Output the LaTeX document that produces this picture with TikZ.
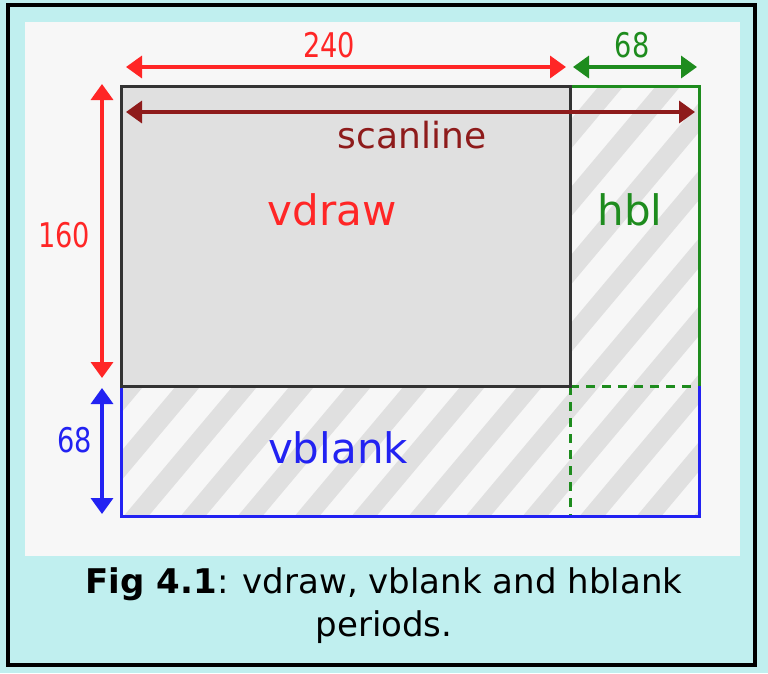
\documentclass[tikz,border=0pt]{standalone}
\usepackage{fontspec}
\setmainfont{DejaVu Sans}
\usetikzlibrary{arrows.meta,positioning}
\definecolor{bgcyan}{HTML}{C0EFEF}
\definecolor{panelgray}{HTML}{F7F7F7}
\definecolor{drawgray}{HTML}{E0E0E0}
\definecolor{dimred}{HTML}{FF2626}
\definecolor{scanred}{HTML}{8E1B1B}
\definecolor{hblgreen}{HTML}{1E8C1E}
\definecolor{vblblue}{HTML}{2222F2}

\begin{document}
\begin{tikzpicture}[x=1pt,y=-1pt,
  dimarrow/.style={line width=3.5pt,{Triangle[width=22pt,length=16pt]}-{Triangle[width=22pt,length=16pt]}},
  arealabel/.style={inner sep=0pt,font=\fontsize{42}{48}\selectfont},
  dimlabel/.style={inner sep=0pt,font=\fontsize{34}{40}\selectfont},
  stripe/.style={line width=19pt,drawgray},
]
 \useasboundingbox (0,0) rectangle (768,673);
 \fill[bgcyan] (0,0) rectangle (768,673);
 \draw[line width=4pt] (8,5) rectangle (755,665);
 \fill[panelgray] (25,22) rectangle (740,556);

 % corners of the three areas
 \coordinate (tl) at (121,86);
 \coordinate (tm) at (570,86);
 \coordinate (tr) at (699,86);
 \coordinate (ml) at (121,386);
 \coordinate (mm) at (570,386);
 \coordinate (mr) at (699,386);
 \coordinate (bl) at (121,516);
 \coordinate (bm) at (570,516);
 \coordinate (br) at (699,516);

 % blanking areas, hatched
 \begin{scope}
  \clip (tm) -- (tr) -- (br) -- (bl) -- (ml) -- (mm) -- cycle;
  \foreach \i in {-340,-283,...,720}
   \draw[stripe] (\i,540) -- ++(420,-500);
 \end{scope}
 \fill[drawgray] (tl) rectangle (mm);

 \draw[hblgreen,line width=3pt] (tm) -- (tr) -- (mr);
 \draw[hblgreen,line width=3pt,dash pattern=on 9pt off 7pt] (mm) -- (mr);
 \draw[hblgreen,line width=3pt,dash pattern=on 9pt off 7pt] (mm) -- (bm);
 \draw[vblblue,line width=3pt] (mr) -- (br) -- (bl) -- (ml);
 \draw[black!80,line width=3pt] (tl) rectangle (mm);

 % dimension arrows
 \coordinate (w0) at (126,67);
 \coordinate (w1) at (566,67);
 \coordinate (h0) at (573,67);
 \coordinate (h1) at (697,67);
 \coordinate (s0) at (126,112);
 \coordinate (s1) at (695,112);
 \coordinate (v0) at (102,84);
 \coordinate (v1) at (102,378);
 \coordinate (b0) at (102,388);
 \coordinate (b1) at (102,514);
 \draw[dimarrow,dimred] (w0) -- (w1);
 \draw[dimarrow,hblgreen] (h0) -- (h1);
 \draw[dimarrow,scanred] (s0) -- (s1);
 \draw[dimarrow,dimred] (v0) -- (v1);
 \draw[dimarrow,vblblue] (b0) -- (b1);

 \node[dimlabel,text=dimred] (wlbl) at (329,45) {\scalebox{0.8}[1]{240}};
 \node[dimlabel,text=hblgreen] (hlbl) at (632,45) {\scalebox{0.8}[1]{68}};
 \node[dimlabel,text=dimred] (vlbl) at (64,235) {\scalebox{0.8}[1]{160}};
 \node[dimlabel,text=vblblue] (blbl) at (75,440) {\scalebox{0.8}[1]{68}};

 \node[inner sep=0pt,font=\fontsize{36}{42}\selectfont,text=scanred] (scanlbl) at (412,135) {scanline};
 \node[arealabel,text=dimred] (vdrawlbl) at (332,210) {vdraw};
 \node[arealabel,text=hblgreen] (hbllbl) at (630,210) {hbl};
 \node[arealabel,text=vblblue] (vblanklbl) at (338,448) {vblank};

 \node[align=center,font=\fontsize{34}{43}\selectfont] (caption) at (384,606)
  {\textbf{Fig 4.1}: vdraw, vblank and hblank\\periods.};
\end{tikzpicture}
\end{document}
